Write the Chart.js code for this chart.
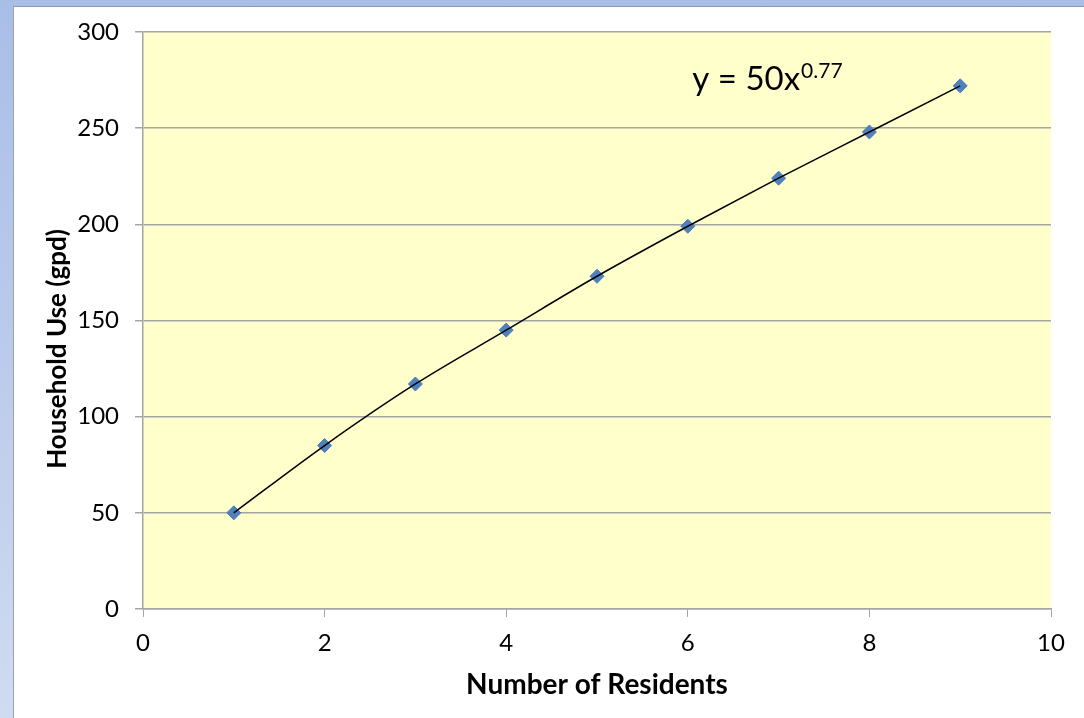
<!DOCTYPE html>
<html>
<head>
<meta charset="utf-8">
<script src="https://cdn.jsdelivr.net/npm/chart.js@4"></script>
<style>
  html, body { margin: 0; padding: 0; width: 1084px; height: 718px; overflow: hidden; }
  body { background: linear-gradient(to bottom, #a9bee7 0%, #bccbeb 50%, #cfdbf1 100%); position: relative; }
  #panel { position: absolute; left: 13px; top: 6px; right: 0; bottom: 0; background: #ffffff;
           border-left: 1px solid #9aa3b3; border-top: 1px solid #8e99ae; }
  #wrap { position: absolute; left: 0; top: 0; width: 1084px; height: 718px; }
</style>
</head>
<body>
<div id="panel"></div>
<div id="wrap"><canvas id="chart"></canvas></div>
<script>
// Household water use by number of residents
const residents = [1, 2, 3, 4, 5, 6, 7, 8, 9];
const householdUse = [50, 85, 117, 145, 173, 199, 224, 248, 272];
const xTicks = [0, 2, 4, 6, 8, 10];
const yTicks = [0, 50, 100, 150, 200, 250, 300];
const xTitle = 'Number of Residents';
const yTitle = 'Household Use (gpd)';
const fitLabel = { main: 'y = 50x', exponent: '0.77', at: [6.05, 270] };

const points = residents.map((r, i) => ({ x: r, y: householdUse[i] }));
const FONT = 'Lato, "Open Sans", sans-serif';
const GRID = '#a5a5a5';

// Yellow plot area fill
const plotBackground = {
  id: 'plotBackground',
  beforeDraw(chart) {
    const { ctx, chartArea: a } = chart;
    ctx.save();
    ctx.fillStyle = '#ffffcc';
    ctx.fillRect(a.left, a.top, a.right - a.left, a.bottom - a.top);
    ctx.restore();
  }
};

// Axis titles and the power-fit equation
const annotations = {
  id: 'annotations',
  afterDraw(chart) {
    const { ctx, chartArea: a, scales } = chart;
    ctx.save();
    ctx.fillStyle = '#000000';
    ctx.textAlign = 'center';
    ctx.textBaseline = 'alphabetic';
    ctx.font = 'bold 28px ' + FONT;
    ctx.fillText(xTitle, (a.left + a.right) / 2, 694);

    ctx.save();
    ctx.font = 'bold 26px ' + FONT;
    ctx.translate(66, 349);
    ctx.rotate(-Math.PI / 2);
    ctx.fillText(yTitle, 0, 0);
    ctx.restore();

    const ex = scales.x.getPixelForValue(fitLabel.at[0]);
    const ey = scales.y.getPixelForValue(fitLabel.at[1]);
    ctx.textAlign = 'left';
    ctx.font = '33px ' + FONT;
    ctx.fillText(fitLabel.main, ex, ey);
    const w = ctx.measureText(fitLabel.main).width;
    ctx.font = '21px ' + FONT;
    ctx.fillText(fitLabel.exponent, ex + w + 1, ey - 12);
    ctx.restore();
  }
};

new Chart(document.getElementById('chart'), {
  type: 'scatter',
  data: {
    datasets: [
      {
        label: 'Trend',
        data: points,
        showLine: true,
        cubicInterpolationMode: 'monotone',
        borderColor: '#000000',
        borderWidth: 1.5,
        pointRadius: 0,
        fill: false,
        order: 0
      },
      {
        label: 'Household Use',
        data: points,
        showLine: false,
        pointStyle: 'rectRot',
        pointRadius: 7,
        pointBackgroundColor: '#4f81bd',
        pointBorderColor: '#4a7cba',
        pointBorderWidth: 1,
        order: 1
      }
    ]
  },
  options: {
    responsive: true,
    maintainAspectRatio: false,
    animation: false,
    layout: { padding: { top: 32, right: 33, left: 0, bottom: 0 } },
    plugins: { legend: { display: false }, tooltip: { enabled: false } },
    scales: {
      x: {
        type: 'linear',
        min: xTicks[0],
        max: xTicks[xTicks.length - 1],
        afterBuildTicks(s) { s.ticks = xTicks.map(v => ({ value: v })); },
        afterFit(s) { s.height = 109; },
        grid: { drawOnChartArea: false, drawTicks: true, tickLength: 8, color: GRID, lineWidth: 1 },
        border: { display: true, color: GRID, width: 1.5 },
        ticks: { color: '#000000', font: { family: FONT, size: 24 }, padding: 12, maxRotation: 0 }
      },
      y: {
        type: 'linear',
        min: yTicks[0],
        max: yTicks[yTicks.length - 1],
        afterBuildTicks(s) { s.ticks = yTicks.map(v => ({ value: v })); },
        afterFit(s) { s.width = 143; },
        grid: { drawOnChartArea: true, drawTicks: true, tickLength: 8, color: GRID, lineWidth: 1.5 },
        border: { display: true, color: GRID, width: 1.5 },
        ticks: { color: '#000000', font: { family: FONT, size: 24 }, padding: 16 }
      }
    }
  },
  plugins: [plotBackground, annotations]
});
</script>
</body>
</html>
